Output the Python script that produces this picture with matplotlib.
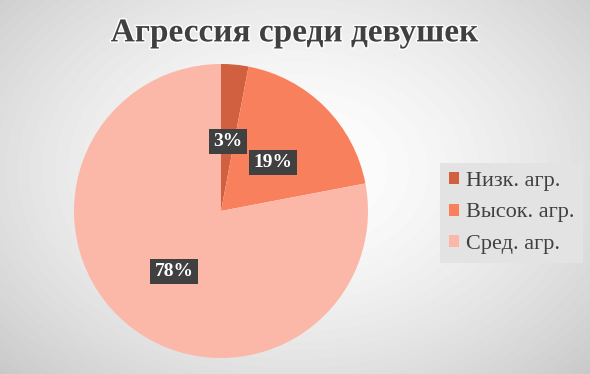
import numpy as np
import matplotlib.pyplot as plt
import matplotlib.patheffects as pe

labels = ["Низк. агр.", "Высок. агр.", "Сред. агр."]
shares = [3, 19, 78]
colors = ["#D0603F", "#F9805C", "#FBB8A8"]

SERIF = 'Liberation Serif'

fig = plt.figure(figsize=(5.9, 3.74), dpi=100)

# radial grey background
bg = fig.add_axes([0, 0, 1, 1], zorder=0)
yy, xx = np.mgrid[0:374, 0:590]
d = np.sqrt(((xx - 295) / 420.0) ** 2 + ((yy - 170) / 300.0) ** 2)
shade = 1.0 - 0.22 * np.clip(d, 0, 1) ** 1.6
bg.imshow(shade, cmap='gray', vmin=0, vmax=1, aspect='auto', extent=[0, 1, 0, 1])
bg.set_axis_off()

ax = fig.add_axes([74 / 590, 16 / 374, 294 / 590, 294 / 374], zorder=1)
wedges, texts, autotexts = ax.pie(
    shares, colors=colors, startangle=90, counterclock=False,
    autopct='%d%%', pctdistance=0.5,
    wedgeprops=dict(linewidth=0))
for t in autotexts:
    t.set_color('white')
    t.set_fontfamily(SERIF)
    t.set_fontweight('bold')
    t.set_fontsize(14)
    t.set_bbox(dict(boxstyle='square,pad=0.22', fc='#404040', ec='none'))
    t.set_y(t.get_position()[1] - 0.025)
ax.set_xlim(-1, 1)
ax.set_ylim(-1, 1)
ax.set_aspect('equal')

fig.text(0.5, 0.912, "Агрессия среди девушек", ha='center', va='center',
         family=SERIF, fontsize=24, fontweight='bold', color='#404040',
         path_effects=[pe.withStroke(linewidth=2, foreground='white')])

leg = fig.legend(wedges, labels, loc='center left', bbox_to_anchor=(440 / 590, 1 - 213 / 374),
                 prop=dict(family=SERIF, size=16), frameon=True, fancybox=False,
                 handlelength=0.45, handleheight=0.45, handletextpad=0.3,
                 labelspacing=0.55, borderpad=0.4, borderaxespad=0,
                 labelcolor='#404040')
leg.get_frame().set_facecolor('#E3E3E3')
leg.get_frame().set_edgecolor('none')
leg.get_frame().set_alpha(1)

fig.savefig("out.png", dpi=100)
